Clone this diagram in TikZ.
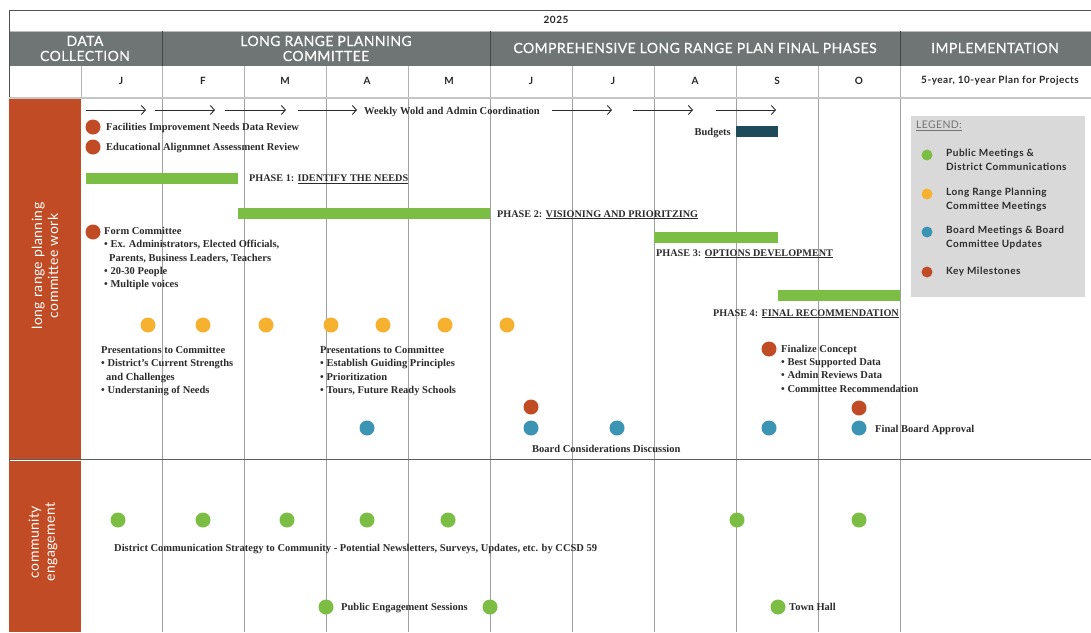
\documentclass[tikz,border=0pt]{standalone}
\usepackage{fontspec}
\setmainfont{Liberation Serif}
\newfontfamily\hd[LetterSpace=3,FakeBold=0.3]{Lato}
\newfontfamily\hs[LetterSpace=5]{Lato}
\newfontfamily\hl[LetterSpace=3]{Lato}
\usetikzlibrary{arrows.meta}
\definecolor{hdrgray}{HTML}{6F7575}
\definecolor{orng}{HTML}{C04B24}
\definecolor{grn}{HTML}{7BBE43}
\definecolor{yel}{HTML}{F6B131}
\definecolor{blu}{HTML}{3B94B4}
\definecolor{tealbar}{HTML}{1E4A5A}
\definecolor{leggray}{HTML}{D9D9D9}
\definecolor{gridgray}{HTML}{A0A0A0}
\definecolor{txt}{HTML}{2B2B2B}
\tikzset{
  dot/.style={circle,fill=#1,minimum size=15pt,inner sep=0pt},
  ldot/.style={circle,fill=#1,minimum size=11pt,inner sep=0pt},
  lbl/.style={anchor=west,inner sep=0pt,text=txt,font=\fontsize{10.5}{12}\selectfont\bfseries,text height=7.5pt,text depth=1.5pt},
  phase/.style={lbl,font=\fontsize{10.2}{12}\selectfont\bfseries},
  hdr/.style={text=white,font=\hd\fontsize{14}{15}\selectfont,align=center,inner sep=0pt},
  mon/.style={text=black!85,font=\hs\bfseries\fontsize{10}{11}\selectfont,inner sep=0pt},
  leg/.style={anchor=west,inner sep=0pt,text=txt,font=\hs\bfseries\fontsize{10}{13.5}\selectfont,align=left},
  side/.style={text=white,font=\hl\fontsize{14}{16}\selectfont,align=center,rotate=90,inner sep=0pt},
  wk/.style={draw=txt,line width=0.9pt,-{Straight Barb[length=4pt,width=9pt]}},
  grid/.style={draw=gridgray,line width=0.7pt}
}
\begin{document}
\begin{tikzpicture}[x=1pt,y=-1pt]
\useasboundingbox (0,0) rectangle (1091,632);
% header rows
\fill[hdrgray] (9,31) rectangle (1091,66);
\draw[hdrgray!70!black,line width=0.8pt] (9,10) -- (1091,10);
\draw[gridgray!70,line width=0.6pt] (9,31) -- (1091,31);
\draw[hdrgray!70!black,line width=0.8pt] (9,10) -- (9,632);
\foreach \x in {162,490,900} \draw[hdrgray!60!black,line width=0.8pt] (\x,31) -- (\x,66);
\node[mon] (year) at (556,20) {2025};
\node[hdr] (h1) at (85,48.5) {DATA\\COLLECTION};
\node[hdr] (h2) at (326,48.5) {LONG RANGE PLANNING\\COMMITTEE};
\node[hdr] (h3) at (695,48) {COMPREHENSIVE LONG RANGE PLAN FINAL PHASES};
\node[hdr] (h4) at (995,48) {IMPLEMENTATION};
% month row
\foreach \x in {81,162,244,326,408,490,572,654,736,818,900} \draw[grid,gridgray!80] (\x,66) -- (\x,97);
\foreach \x/\m/\n in {121/J/m1,203/F/m2,285/M/m3,367/A/m4,449/M/m5,531/J/m6,613/J/m7,695/A/m8,777/S/m9,859/O/m10}
  \node[mon] (\n) at (\x,81) {\m};
\node[mon] (m11) at (1000,81) {5-year, 10-year Plan for Projects};
% body grid
\foreach \x in {162,244,326,408,490,572,654,736,818,900} \draw[grid] (\x,97) -- (\x,632);
\draw[gridgray!60,line width=2pt] (9,97.5) -- (1091,97.5);
\fill[orng] (9,98.5) rectangle (81,458.5);
\fill[orng] (9,460.5) rectangle (81,632);
\draw[hdrgray!80!black,line width=1pt] (9,459.5) -- (1091,459.5);
\node[side] (s1) at (45,266) {long range planning\\committee work};
\node[side] (s2) at (43,542) {community\\engagement};
% weekly arrows
\foreach \i/\a/\b in {1/86/146,2/155/215,3/225/286,4/298/357,5/552/612,6/633/693,7/716/776}{
  \coordinate (ws\i) at (\a,110); \coordinate (we\i) at (\b,110);
  \draw[wk] (ws\i) -- (we\i);}
\node[lbl] (weekly) at (364,111) {Weekly Wold and Admin Coordination};
% budgets
\fill[tealbar] (736,126) rectangle (778,137);
\node[lbl,anchor=east] (budg) at (731,132) {Budgets};
% data review
\node[dot=orng] (d1) at (93,127) {};
\node[lbl] (t1) at (106,127) {Facilities Improvement Needs Data Review};
\node[dot=orng] (d2) at (93,147) {};
\node[lbl] (t2) at (106,147) {Educational Alignmnet Assessment Review};
% phases
\fill[grn] (86,173) rectangle (238,184);
\node[phase] (p1) at (249,178.5) {PHASE 1: \underline{IDENTIFY THE NEEDS}};
\fill[grn] (238,208) rectangle (490,218.5);
\node[phase] (p2) at (497,214) {PHASE 2: \underline{VISIONING AND PRIORITZING}};
\fill[grn] (654,232) rectangle (778,243);
\node[phase] (p3) at (656,253) {PHASE 3: \underline{OPTIONS DEVELOPMENT}};
\fill[grn] (778,290) rectangle (900,301);
\node[phase,anchor=east] (p4) at (899,313) {PHASE 4: \underline{FINAL RECOMMENDATION}};
% form committee
\node[dot=orng] (d3) at (93,232) {};
\node[lbl] (f0) at (104,231.5) {Form Committee};
\node[lbl] (f1) at (104,244.5) {• Ex. Administrators, Elected Officials,};
\node[lbl] (f2) at (109,258) {Parents, Business Leaders, Teachers};
\node[lbl] (f3) at (104,271) {• 20-30 People};
\node[lbl] (f4) at (104,284.5) {• Multiple voices};
% committee meetings
\foreach \x/\n in {148/y1,203/y2,266/y3,331/y4,383/y5,445/y6,507/y7}
  \node[dot=yel] (\n) at (\x,325) {};
\node[lbl] (a0) at (101,350) {Presentations to Committee};
\node[lbl] (a1) at (101,363.5) {• District’s Current Strengths};
\node[lbl] (a2) at (106,377) {and Challenges};
\node[lbl] (a3) at (101,390) {• Understaning of Needs};
\node[lbl] (b0) at (320,350) {Presentations to Committee};
\node[lbl] (b1) at (320,363.5) {• Establish Guiding Principles};
\node[lbl] (b2) at (320,377) {• Prioritization};
\node[lbl] (b3) at (320,390) {• Tours, Future Ready Schools};
% finalize
\node[dot=orng] (d4) at (769,349) {};
\node[lbl] (c0) at (781,349) {Finalize Concept};
\node[lbl] (c1) at (781,362) {• Best Supported Data};
\node[lbl] (c2) at (781,375.5) {• Admin Reviews Data};
\node[lbl] (c3) at (781,389) {• Committee Recommendation};
% milestones and board
\node[dot=orng] (d5) at (531,407) {};
\node[dot=orng] (d6) at (859,408) {};
\foreach \x/\n in {367/bl1,531/bl2,617/bl3,769/bl4,859/bl5}
  \node[dot=blu] (\n) at (\x,428) {};
\node[lbl] (fba) at (875,429) {Final Board Approval};
\node[lbl] (bcd) at (532,449) {Board Considerations Discussion};
% community
\foreach \x/\n in {118/g1,203/g2,287/g3,367/g4,448/g5,737/g6,859/g7}
  \node[dot=grn] (\n) at (\x,520) {};
\node[lbl] (dcs) at (114,548.5) {District Communication Strategy to Community - Potential Newsletters, Surveys, Updates, etc. by CCSD 59};
\node[dot=grn] (g8) at (326,607) {};
\node[lbl] (pes) at (341,607) {Public Engagement Sessions};
\node[dot=grn] (g9) at (490,607) {};
\node[dot=grn] (g10) at (778,607) {};
\node[lbl] (th) at (789,607) {Town Hall};
% legend
\fill[leggray] (911,116) rectangle (1085,297);
\node[anchor=west,inner sep=0pt,text=black!55,font=\hl\fontsize{10.5}{12}\selectfont] (legt) at (916,126) {\underline{LEGEND:}};
\node[ldot=grn] (l1) at (927,155) {};
\node[leg,anchor=north west] (lt1) at (946,149) {Public Meetings \&\\District Communications};
\node[ldot=yel] (l2) at (927,194) {};
\node[leg,anchor=north west] (lt2) at (946,188) {Long Range Planning\\Committee Meetings};
\node[ldot=blu] (l3) at (927,232) {};
\node[leg,anchor=north west] (lt3) at (946,226) {Board Meetings \& Board\\Committee Updates};
\node[ldot=orng] (l4) at (927,272) {};
\node[leg] (lt4) at (946,272) {Key Milestones};
\end{tikzpicture}
\end{document}
